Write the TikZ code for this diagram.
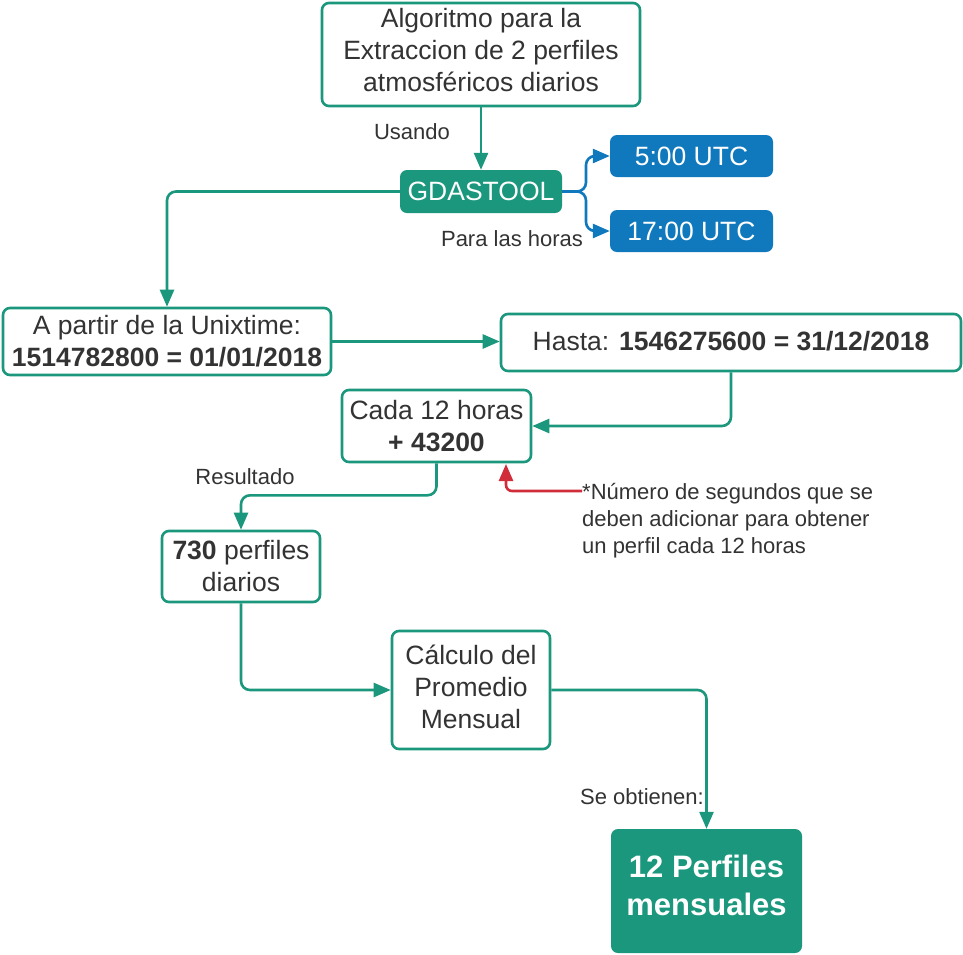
\documentclass[tikz,border=0pt]{standalone}
\usepackage{fontspec}
\setmainfont{Liberation Sans}
\usetikzlibrary{arrows.meta}
\definecolor{teal1}{RGB}{26,151,124}
\definecolor{blue1}{RGB}{16,121,189}
\definecolor{red1}{RGB}{208,44,58}
\definecolor{txt}{RGB}{51,51,51}
\tikzset{
  box/.style={draw=teal1, line width=2.6pt, rounded corners=7pt, fill=white, text=txt, align=center, inner sep=0pt, font=\fontsize{26.5}{32}\selectfont},
  fillbox/.style={fill=teal1, rounded corners=7pt, text=white, align=center, inner sep=0pt, font=\fontsize{26.5}{32}\selectfont},
  bluebox/.style={fill=blue1, rounded corners=7pt, text=white, align=center, inner sep=0pt, font=\fontsize{26.5}{32}\selectfont},
  lbl/.style={text=txt, inner sep=0pt, font=\fontsize{22}{27}\selectfont},
  conn/.style={draw=teal1, line width=2.6pt, rounded corners=9pt, -{Triangle[length=17pt,width=14pt]}},
  bconn/.style={draw=blue1, line width=2.6pt, rounded corners=9pt, -{Triangle[length=17pt,width=14pt]}},
  rconn/.style={draw=red1, line width=2.6pt, rounded corners=6pt, -{Triangle[length=17pt,width=14pt]}},
}
\begin{document}
\begin{tikzpicture}[x=1pt,y=-1pt]
\fill[white] (0,0) rectangle (963,954);
\useasboundingbox (0,0) rectangle (963,954);

\node[box, minimum width=318pt, minimum height=103pt, text depth=9pt] (A) at (481,54.5) {Algoritmo para la\\Extraccion de 2 perfiles\\atmosféricos diarios};
\node[fillbox, minimum width=162pt, minimum height=43pt] (gd) at (481,191.5) {GDASTOOL};
\node[bluebox, minimum width=163pt, minimum height=42pt] (t5) at (691.5,156) {5:00 UTC};
\node[bluebox, minimum width=163pt, minimum height=42pt] (t17) at (691.5,231) {17:00 UTC};
\node[box, minimum width=328pt, minimum height=67pt] (B) at (167,341.5) {A partir de la Unixtime:\\\textbf{1514782800 = 01/01/2018}};
\node[box, minimum width=460pt, minimum height=57pt, text depth=3pt] (C) at (731,342.5) {Hasta: \textbf{1546275600 = 31/12/2018}};
\node[box, minimum width=189pt, minimum height=72pt] (D) at (436.5,426) {Cada 12 horas\\\textbf{+ 43200}};
\node[box, minimum width=158pt, minimum height=71pt] (E) at (241,566.5) {\textbf{730} perfiles\\diarios};
\node[box, minimum width=158pt, minimum height=118pt, text depth=7pt] (F) at (471,690) {Cálculo del\\Promedio\\Mensual};
\node[fillbox, minimum width=191pt, minimum height=124pt, text depth=12pt, font=\fontsize{31}{38}\selectfont\bfseries] (G) at (706.5,891) {12 Perfiles\\mensuales};

\node[lbl] (l1) at (412,132) {Usando};
\node[lbl] (l2) at (512,239) {Para las horas};
\node[lbl] (l3) at (245,477) {Resultado};
\node[lbl] (l4) at (642,797) {Se obtienen:};
\node[lbl, anchor=north west, align=left] (note) at (582,483) {*Número de segundos que se\\deben adicionar para obtener\\un perfil cada 12 horas};

\coordinate (br) at (586,191.5);
\coordinate (rs) at (582,491);
\coordinate (rt) at (506,464);

\draw[conn] (A.south) -- (gd.north);
\draw[bconn] (gd.east) -- (br) |- (t5.west);
\draw[bconn] (gd.east) -- (br) |- (t17.west);
\draw[conn] (gd.west) -| (B.north);
\draw[conn] (B.east) -- (B.east -| C.west);
\draw[conn] (C.south) |- (D.east);
\draw[conn] (D.south) -- ++(0,32) -| (E.north);
\draw[rconn] (rs) -| (rt);
\draw[conn] (E.south) |- (F.west);
\draw[conn] (F.east) -| (G.north);
\end{tikzpicture}
\end{document}
